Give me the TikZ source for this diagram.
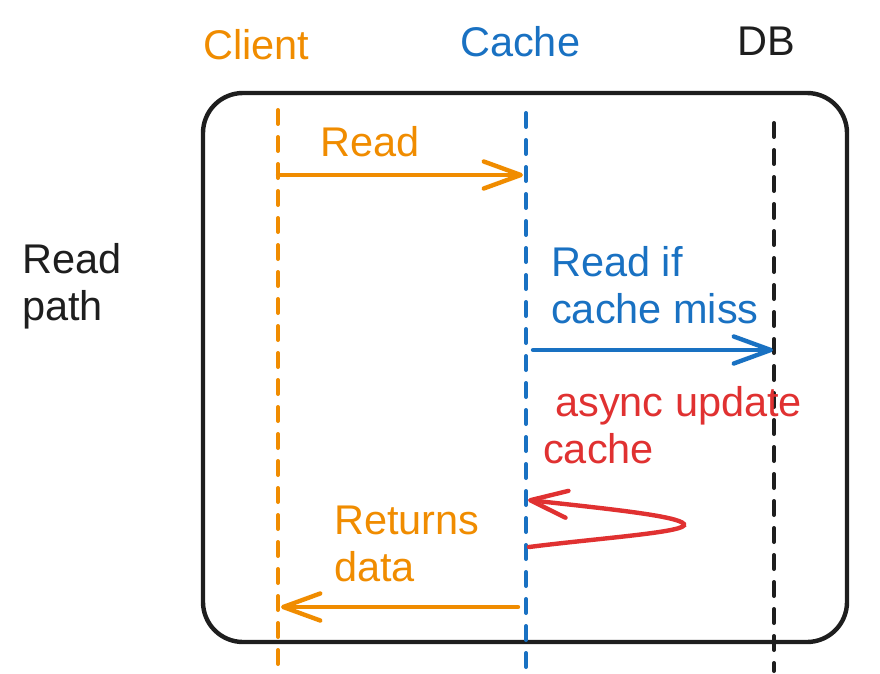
\documentclass[tikz,border=0pt]{standalone}
\usepackage{fontspec}
\setmainfont{Liberation Sans}
\usetikzlibrary{arrows.meta}
\definecolor{exorange}{HTML}{F08C00}
\definecolor{exblue}{HTML}{1971C2}
\definecolor{exred}{HTML}{E03131}
\definecolor{exblack}{HTML}{1E1E1E}
\begin{document}
\begin{tikzpicture}[x=1pt,y=-1pt,
  lbl/.style={anchor=base west,inner sep=0pt,font=\fontsize{41.5}{47}\selectfont,align=left},
  lifeline/.style={line width=4pt,dash pattern=on 14pt off 13pt,line cap=round},
  msg/.style={line width=4.4pt,line cap=round,-{Straight Barb[length=37pt,width=27pt,line width=4.4pt,round]}},
]
\useasboundingbox (0,0) rectangle (880,674);
\draw[exblack,line width=4.4pt,rounded corners=40pt] (203,93) rectangle (847,642);
% lifelines
\coordinate (cl1) at (278,110); \coordinate (cl2) at (278,667);
\coordinate (ca1) at (526,113); \coordinate (ca2) at (526,667);
\coordinate (db1) at (774,123); \coordinate (db2) at (774,671);
\draw[lifeline,exorange] (cl1) -- (cl2);
\draw[lifeline,exblue] (ca1) -- (ca2);
\draw[lifeline,exblack] (db1) -- (db2);
% headers
\node[lbl,text=exorange] (tclient) at (203,60) {Client};
\node[lbl,text=exblue] (tcache) at (460,57) {Cache};
\node[lbl,text=exblack] (tdb) at (737,56) {DB};
\node[lbl,text=exblack] (tpath) at (22,320) {Read\\path};
% message 1
\coordinate (m1a) at (278,175); \coordinate (m1b) at (523,175);
\draw[msg,exorange] (m1a) -- (m1b);
\node[lbl,text=exorange] (tread) at (320,156) {Read};
% message 2
\coordinate (m2a) at (533,350); \coordinate (m2b) at (773,350);
\draw[msg,exblue] (m2a) -- (m2b);
\node[lbl,text=exblue] (tmiss) at (551,323) {Read if\\cache miss};
% async update
\node[lbl,text=exred] (tasync) at (555,416) {async update};
\node[lbl,text=exred] (tcache2) at (543,463) {cache};
\coordinate (r1) at (529,547); \coordinate (rt) at (684,524); \coordinate (r2) at (528,500);
\draw[msg,exred] (r1) .. controls (600,538) and (690,532) .. (rt) .. controls (678,516) and (610,509) .. (r2);
% return
\coordinate (m3a) at (518,607); \coordinate (m3b) at (281,607);
\draw[msg,exorange] (m3a) -- (m3b);
\node[lbl,text=exorange] (tret) at (334,581) {Returns\\data};
\end{tikzpicture}
\end{document}
